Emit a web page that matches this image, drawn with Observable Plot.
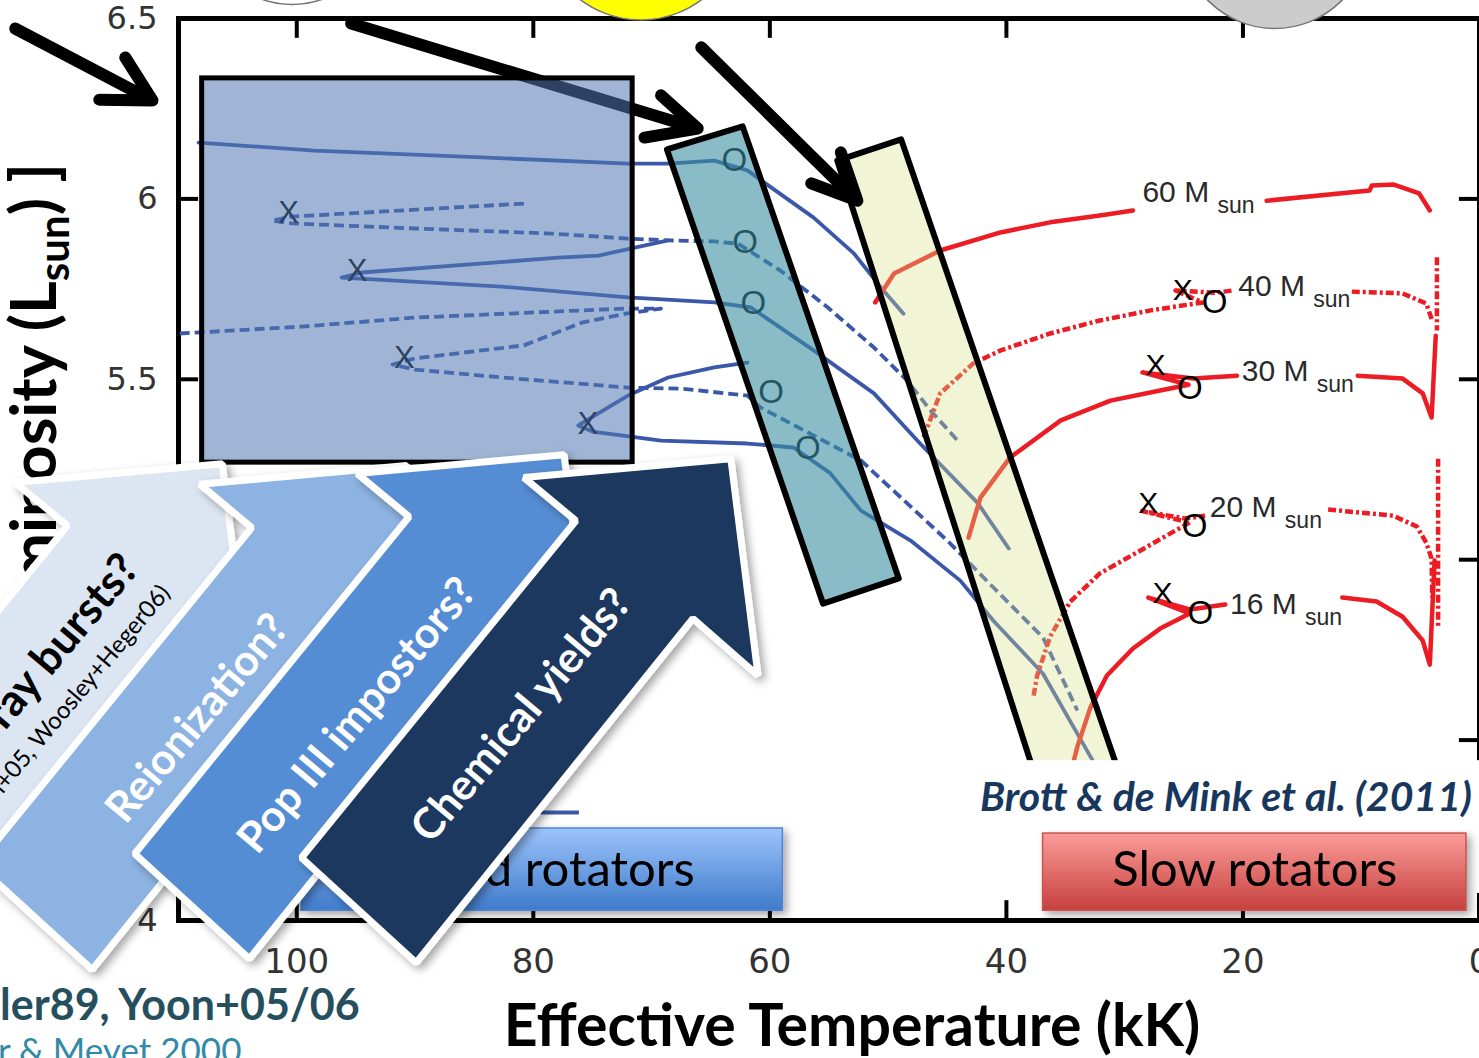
<!DOCTYPE html>
<html><head><meta charset="utf-8">
<script src="https://cdn.jsdelivr.net/npm/d3@7"></script>
<script src="https://cdn.jsdelivr.net/npm/@observablehq/plot@0.6"></script>
<style>
html,body{margin:0;padding:0;background:#fff;overflow:hidden}
#chart{position:relative;width:1479px;height:1058px}
</style></head><body>
<svg width="0" height="0" style="position:absolute">
<defs>
<linearGradient id="gradRapid" x1="0" y1="0" x2="0" y2="1"><stop offset="0" stop-color="#9dc4fb"/><stop offset="1" stop-color="#3f7bcb"/></linearGradient>
<linearGradient id="gradSlow" x1="0" y1="0" x2="0" y2="1"><stop offset="0" stop-color="#fb9c99"/><stop offset="1" stop-color="#c6403e"/></linearGradient>
<filter id="shadow" x="-20%" y="-20%" width="140%" height="140%"><feDropShadow dx="4" dy="4" stdDeviation="4" flood-color="#000" flood-opacity="0.35"/></filter>
</defs></svg>
<div id="chart"></div>
<script>
// ---------- axes ----------
const tempTicks = [100, 80, 60, 40, 20, 0];          // Teff (kK)
const lumTicks = [6.5, 6, 5.5, 5, 4.5, 4];           // log L
const tempTickMarks = [100, 80, 60, 40, 20];
const lumTickMarks = [6, 5.5, 5, 4.5];

// ---------- fast rotators (blue): [Teff kK, log L] ----------
const fast60 = [[108.3,6.156],[98.5,6.134],[84.4,6.115],[72.0,6.098],[68.6,6.098],[64.7,6.106],[61.9,6.079],[59.9,6.032],[56.3,5.948],[52.9,5.849],[50.6,5.754],[48.7,5.682]];
const fast40 = [[80.8,5.987],[100.4,5.951],[102.1,5.940],[100.4,5.932],[90.0,5.918],[78.5,5.904],[72.0,5.890],[68.6,5.885],[64.7,5.882],[62.7,5.876],[59.1,5.801],[55.1,5.699],[51.2,5.588],[48.4,5.497],[46.4,5.413],[43.9,5.322]];
const fast30 = [[68.6,5.885],[74.5,5.843],[77.9,5.837],[94.5,5.796],[96.2,5.782],[82.7,5.757],[72.0,5.727],[64.7,5.713],[61.6,5.699],[56.3,5.580],[51.2,5.461],[47.3,5.322],[42.4,5.156],[39.8,5.031]];
const fast20 = [[109.9,5.627],[99.6,5.646],[90.0,5.671],[72.3,5.696],[69.2,5.696],[72.2,5.682],[75.9,5.657],[80.8,5.594],[90.0,5.558],[91.9,5.541],[90.0,5.527],[82.6,5.505],[72.0,5.477],[67.5,5.474],[61.9,5.455],[60.8,5.422],[52.3,5.275],[45.0,5.053],[41.1,4.923],[36.9,4.784],[34.0,4.582]];
const fast16 = [[61.9,5.546],[64.7,5.533],[68.6,5.505],[72.0,5.455],[76.2,5.372],[75.0,5.355],[69.2,5.330],[61.9,5.322],[58.0,5.311],[54.9,5.240],[52.3,5.136],[48.1,5.053],[43.9,4.942],[41.1,4.831],[36.9,4.684],[32.7,4.443]];
const fastLegend = [[79.3,4.299],[76.2,4.299]];

// ---------- slow rotators (red): null = gap for label ----------
const slow60 = [[51.1,5.713],[49.5,5.793],[45.6,5.857],[40.5,5.907],[36.3,5.935],[32.1,5.954],[29.3,5.968],null,[18.0,5.995],[9.3,6.023],[9.1,6.037],[7.3,6.040],[5.1,6.015],[4.2,5.968]];
const slow40 = [[47.0,5.339],[45.6,5.461],[42.8,5.544],[40.5,5.580],[36.3,5.627],[32.1,5.663],[27.8,5.691],[23.4,5.713],[25.7,5.746],[22.4,5.740],[20.9,5.746],null,[10.8,5.743],[6.5,5.738],[4.5,5.710],[4.0,5.663],null,[3.6,5.838],[3.6,5.635]];
const slow30 = [[43.2,5.061],[42.2,5.172],[39.7,5.283],[35.4,5.386],[31.2,5.441],[27.0,5.469],[24.6,5.485],[28.5,5.519],[24.2,5.502],[20.5,5.510],null,[10.3,5.510],[6.5,5.502],[4.8,5.461],[4.05,5.394],[3.7,5.621]];
const slow20 = [[37.7,4.623],[37.4,4.679],[36.3,4.787],[34.6,4.884],[32.1,4.962],[28.1,5.036],[25.7,5.081],[24.5,5.103],[28.7,5.136],[24.9,5.114],[23.2,5.122],null,[12.8,5.139],[7.3,5.122],[5.3,5.092],[4.5,5.047],[4.05,5.003],[4.0,4.895],null,[3.5,5.280],[3.5,4.809]];
const slow16 = [[34.8,4.380],[34.3,4.443],[34.0,4.482],[32.9,4.590],[31.5,4.679],[29.3,4.754],[27.0,4.809],[24.5,4.851],[28.0,4.895],[24.5,4.862],[21.5,4.876],null,[11.6,4.895],[8.7,4.884],[6.5,4.842],[4.8,4.776],[4.2,4.709],[3.8,4.998]];

// ---------- markers ----------
const fastX = [[100.7,5.962],[94.9,5.801],[90.9,5.560],[75.4,5.377]];
const fastO = [[63.0,6.106],[62.1,5.879],[61.4,5.710],[59.9,5.463],[56.8,5.308]];
const slowX = [[25.1,5.746],[27.4,5.538],[28.0,5.156],[26.8,4.906]];
const slowO = [[22.4,5.713],[24.5,5.474],[24.1,5.092],[23.6,4.851]];
const massLabels = [60, 40, 30, 20, 16];
const massLabelT = [28.5, 20.4, 20.1, 22.8, 21.1];
const massLabelL = [6.018, 5.757, 5.521, 5.144, 4.876];

// ---------- annotation shapes (data units) ----------
const fastRegion = [[108.0, 71.6, 5.269, 6.334]];   // T1, T2, L1, L2
const tealBand = [[68.7,6.137],[62.3,6.201],[49.1,4.948],[55.5,4.878]];
const yellowBand = [[54.3,6.106],[48.9,6.165],[30.4,4.402],[36.9,4.332]];
const arrow1 = [[123.8,6.472],[112.4,6.276]];
const arrow1Head = [[116.7,6.275],[112.2,6.273],[114.5,6.392]];
const arrow2 = [[95.4,6.486],[66.4,6.198]];
const arrow2Head = [[70.6,6.170],[66.1,6.195],[69.2,6.287]];
const arrow3 = [[65.8,6.420],[52.8,6.000]];
const arrow3Head = [[56.5,6.043],[52.6,5.995],[54.0,6.129]];
const citationBox = [[76.1, -1, 4.075, 4.443]];
const rapidButton = [[99.6, 58.9, 4.027, 4.255]];
const slowButton = [[36.9, 1.1, 4.027, 4.241]];
const rapidText = [79.2, 4.138];
const slowText = [19.0, 4.138];

// block arrows: one shape, shifted per arrow
const blockArrow = [[63.3,5.280],[61.0,4.679],[66.5,4.837],[89.9,3.883],[99.6,4.174],[76.4,5.108],[80.8,5.228]];
const blockLabels = ["Gamma-ray bursts?", "Reionization?", "Pop III impostors?", "Chemical yields?"];
const blockShiftT = [43.0, 27.4, 14.1, 0];
const blockShiftL = [-0.014, -0.019, 0.011, 0];
const blockLabelT = [114.1, 108.4, 94.9, 81.0];
const blockLabelL = [4.998, 4.560, 4.568, 4.568];
const grbSub = "(Yoon+05, Woosley+Heger06)";
const grbSubPos = [111.1, 4.920];

// discs peeking at the top
const discT = [100.4, 70.9, 17.3];
const discL = [6.794, 6.776, 6.733];

// ---------- styles ----------
const blue = "#3a57a9", red = "#ec1c24";
const blockColors = ["#dce6f2", "#8db3e2", "#548dd4", "#1a375f"];
const blockTextColors = ["black", "white", "white", "white"];
const blockFontSizes = [44, 43, 43, 43];
const discColors = ["white", "#ffff00", "#cccccc"];
const discRadii = [92, 101, 94];

const xy = {x: d => d ? d[0] : NaN, y: d => d ? d[1] : NaN};
const sans = "Liberation Sans, Arial, sans-serif";
const tickFont = "DejaVu Sans, Liberation Sans, sans-serif";

const marks = [
  Plot.frame({stroke: "black", strokeWidth: 5}),
  Plot.ruleX(tempTickMarks, {x: d => d, y1: 6.5, y2: 6.445, stroke: "black", strokeWidth: 4}),
  Plot.ruleX(tempTickMarks, {x: d => d, y1: 4, y2: 4.055, stroke: "black", strokeWidth: 4}),
  Plot.ruleY(lumTickMarks, {y: d => d, x1: 110, x2: 108.3, stroke: "black", strokeWidth: 4}),
  Plot.ruleY(lumTickMarks, {y: d => d, x1: 0, x2: 1.7, stroke: "black", strokeWidth: 4}),
  Plot.text(lumTicks, {x: 110, y: d => d, text: d => String(d), textAnchor: "end", dx: -21, fontSize: 32, fill: "#333", fontFamily: tickFont}),
  Plot.text(tempTicks, {x: d => d, y: 4, text: d => String(d), dy: 42, fontSize: 34, fill: "#333", fontFamily: tickFont}),
  // tracks
  ...[fast60, fast30, fast16].map(t => Plot.line(t, {...xy, stroke: blue, strokeWidth: 3.8})),
  ...[fast40, fast20].map(t => Plot.line(t, {...xy, stroke: blue, strokeWidth: 3.8, strokeDasharray: "10,5", strokeLinecap: "butt"})),
  ...[slow60, slow30, slow16].map(t => Plot.line(t, {...xy, stroke: red, strokeWidth: 4.5})),
  ...[slow40, slow20].map(t => Plot.line(t, {...xy, stroke: red, strokeWidth: 4.5, strokeDasharray: "8,3,3,3", strokeLinecap: "butt"})),
  Plot.text(fastX, {...xy, text: () => "X", fontSize: 31, fill: "black", fontFamily: sans}),
  Plot.text(fastO, {...xy, text: () => "O", fontSize: 33, fill: "black", fontFamily: sans}),
  Plot.text(slowX, {...xy, text: () => "X", fontSize: 30, fill: "black", fontFamily: sans}),
  Plot.text(slowO, {...xy, text: () => "O", fontSize: 33, fill: "black", fontFamily: sans}),
  Plot.text(massLabels, {x: (d, i) => massLabelT[i], y: (d, i) => massLabelL[i], text: d => `${d} M`, textAnchor: "start", fontSize: 30, fill: "#2a2a2a", fontFamily: sans}),
  Plot.text(massLabels, {x: (d, i) => massLabelT[i], y: (d, i) => massLabelL[i], text: () => "sun", textAnchor: "start", dx: 75, dy: 13, fontSize: 23, fill: "#2a2a2a", fontFamily: sans}),
  // highlight bands
  Plot.line(tealBand, {...xy, curve: "linear-closed", fill: "#3c8fa3", fillOpacity: 0.6, stroke: "black", strokeWidth: 6}),
  Plot.line(yellowBand, {...xy, curve: "linear-closed", fill: "#dae08a", fillOpacity: 0.35, stroke: "black", strokeWidth: 6}),
  // arrows
  ...[arrow2, arrow2Head, arrow3, arrow3Head, arrow1, arrow1Head].map(a => Plot.line(a, {...xy, stroke: "black", strokeWidth: 12, strokeLinecap: "round", strokeLinejoin: "round"})),
  Plot.rect(fastRegion, {x1: d => d[0], x2: d => d[1], y1: d => d[2], y2: d => d[3], fill: "#5279b3", fillOpacity: 0.55, stroke: "black", strokeWidth: 5}),
  Plot.line(fastLegend, {...xy, stroke: blue, strokeWidth: 4}),
  Plot.rect(citationBox, {x1: d => d[0], x2: d => d[1], y1: d => d[2], y2: d => d[3], fill: "white"}),
  Plot.rect(rapidButton, {x1: d => d[0], x2: d => d[1], y1: d => d[2], y2: d => d[3], fill: "url(#gradRapid)", stroke: "#4f86cf", strokeWidth: 1.5}),
  Plot.rect(slowButton, {x1: d => d[0], x2: d => d[1], y1: d => d[2], y2: d => d[3], fill: "url(#gradSlow)", stroke: "#c9524f", strokeWidth: 1.5}),
  Plot.text([rapidText], {...xy, text: () => "Rapid rotators", fontSize: 49, fill: "black", fontFamily: "Lato"}),
  Plot.text([slowText], {...xy, text: () => "Slow rotators", fontSize: 49, fill: "black", fontFamily: "Lato"}),
  // block arrows
  ...blockLabels.flatMap((lab, i) => {
    const poly = blockArrow.map(([t, l]) => [t + blockShiftT[i], l + blockShiftL[i]]);
    const m = [
      Plot.line(poly, {...xy, curve: "linear-closed", fill: blockColors[i], stroke: "white", strokeWidth: 7, strokeLinejoin: "miter"}),
      Plot.text([[blockLabelT[i], blockLabelL[i]]], {...xy, text: () => lab, rotate: -50, fontSize: blockFontSizes[i], fontWeight: "bold", fill: blockTextColors[i], fontFamily: "Lato", textAnchor: i === 0 ? "end" : "middle"})
    ];
    if (i === 0) m.push(Plot.text([grbSubPos], {...xy, text: () => grbSub, rotate: -50, fontSize: 24, fill: "black", fontFamily: "Lato", textAnchor: "end"}));
    return m;
  }),
  // discs at the top
  ...discT.map((t, i) => Plot.dot([[t, discL[i]]], {...xy, r: discRadii[i], fill: discColors[i], stroke: "#777", strokeWidth: 1.5}))
];

const plot = Plot.plot({
  width: 1479, height: 1058,
  marginLeft: 178, marginRight: 0, marginTop: 18, marginBottom: 138,
  x: {domain: [110, 0], axis: null},
  y: {domain: [4, 6.5], axis: null},
  style: {background: "white"},
  marks
});
document.getElementById("chart").appendChild(plot);

const svg = d3.select(plot);
// drop shadows on block arrows and buttons
svg.selectAll("g").filter(function () {
  const f = this.getAttribute("fill");
  return blockColors.includes(f) || (f && f.startsWith("url("));
}).attr("filter", "url(#shadow)");

// y-axis title (under the block arrows)
const yt = svg.insert("text", ":first-child")
  .attr("transform", "translate(56,163) rotate(-90)")
  .attr("text-anchor", "end")
  .attr("font-family", "Lato").attr("font-weight", "bold").attr("font-size", 63).attr("fill", "black");
yt.append("tspan").text("log [ Luminosity (L");
yt.append("tspan").attr("font-size", 42).attr("dy", 13).text("sun");
yt.append("tspan").attr("dy", -13).text(") ]");

svg.append("text").attr("x", 852).attr("y", 1046).attr("text-anchor", "middle")
  .attr("font-family", "Lato").attr("font-weight", "bold").attr("font-size", 59).attr("fill", "black")
  .text("Effective Temperature (kK)");
svg.append("text").attr("x", 980).attr("y", 811).attr("text-anchor", "start")
  .attr("font-family", "Lato").attr("font-weight", "bold").attr("font-style", "italic").attr("font-size", 41).attr("fill", "#17375e")
  .text("Brott & de Mink et al. (2011)");
svg.append("text").attr("x", 0).attr("y", 1020).attr("text-anchor", "start")
  .attr("font-family", "Lato").attr("font-weight", "bold").attr("font-size", 43).attr("fill", "#264f5e")
  .text("ler89, Yoon+05/06");
svg.append("text").attr("x", -2).attr("y", 1063).attr("text-anchor", "start")
  .attr("font-family", "Lato").attr("font-size", 35).attr("fill", "#318aa7")
  .text("r & Meyet 2000,");
</script>
</body></html>
